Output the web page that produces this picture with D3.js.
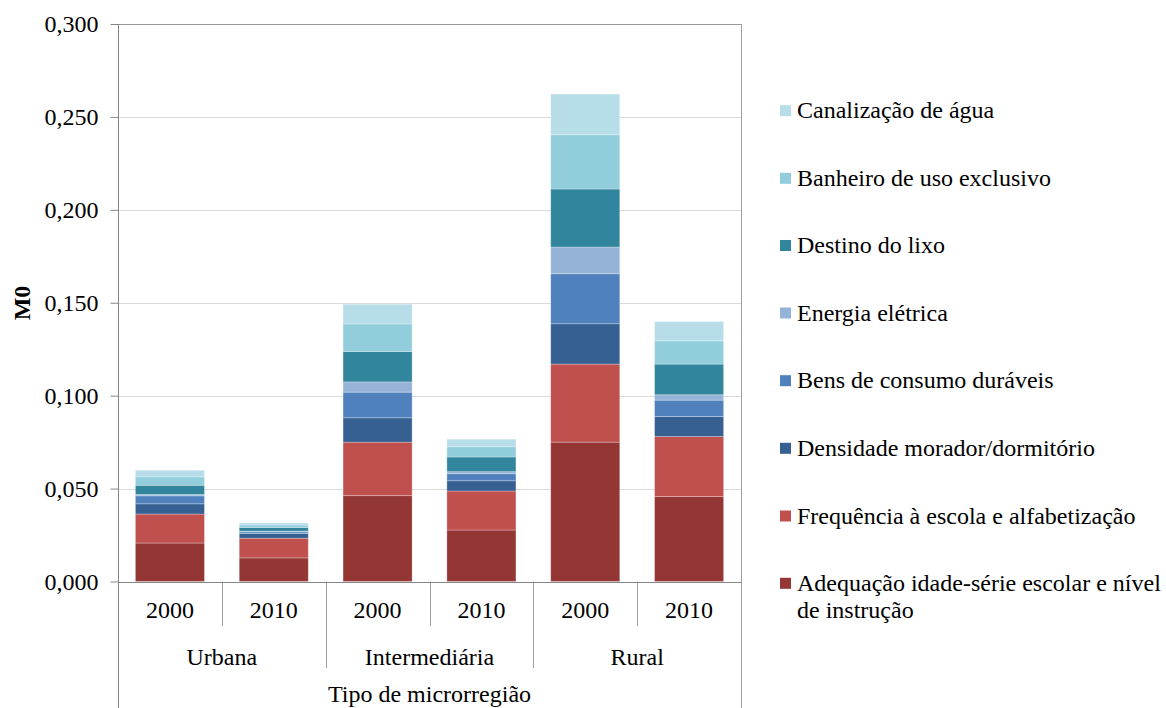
<!DOCTYPE html>
<html><head><meta charset="utf-8">
<script src="https://cdn.jsdelivr.net/npm/d3@7"></script>
<style>body{margin:0;background:#fff}svg{display:block}</style>
</head><body><svg id="c" width="1166" height="708"></svg>
<script>
const groups = ["Urbana", "Intermediária", "Rural"];
const years = ["2000", "2010"];
const series = [
  "Adequação idade-série escolar e nível de instrução",
  "Frequência à escola e alfabetização",
  "Densidade morador/dormitório",
  "Bens de consumo duráveis",
  "Energia elétrica",
  "Destino do lixo",
  "Banheiro de uso exclusivo",
  "Canalização de água"
];
const colors = ["#943634","#C0504D","#366092","#4F81BD","#95B3D7","#31859C","#92CDDC","#B7DEE8"];
// values per series, for bars: Urb2000, Urb2010, Int2000, Int2010, Rur2000, Rur2010
const adequacao   = [0.0207, 0.0127, 0.0462, 0.0277, 0.0750, 0.0457];
const frequencia  = [0.0156, 0.0106, 0.0288, 0.0210, 0.0420, 0.0323];
const densidade   = [0.0055, 0.0025, 0.0131, 0.0055, 0.0217, 0.0108];
const bens        = [0.0043, 0.0009, 0.0138, 0.0038, 0.0269, 0.0088];
const energia     = [0.0007, 0.0004, 0.0055, 0.0011, 0.0144, 0.0029];
const destino     = [0.0050, 0.0020, 0.0163, 0.0079, 0.0312, 0.0165];
const banheiro    = [0.0045, 0.0013, 0.0149, 0.0055, 0.0292, 0.0125];
const canalizacao = [0.0036, 0.0011, 0.0106, 0.0041, 0.0219, 0.0104];
const yTicks = [0, 0.05, 0.1, 0.15, 0.2, 0.25, 0.3];

const FONT = "'Liberation Serif', 'Times New Roman', 'DejaVu Serif', serif";
const FS = 24;

const values = [adequacao, frequencia, densidade, bens, energia, destino, banheiro, canalizacao];
const bars = [];
groups.forEach(g => years.forEach(y => bars.push({g, y})));
const table = bars.map((b, i) => {
  const o = {id: i};
  series.forEach((s, k) => o[s] = values[k][i]);
  return o;
});
const stacked = d3.stack().keys(series)(table);

const svg = d3.select("#c");
const L = 118, R = 741, T = 24, B = 581.5;
const x = d3.scaleBand().domain(d3.range(bars.length)).range([L, R]).paddingInner(0.335).paddingOuter(0.1675);
const y = d3.scaleLinear().domain([0, 0.3]).range([B, T]);
const step = x.step();
const fmt = d => d3.format(".3f")(d).replace(".", ",");

// gridlines
svg.append("g").selectAll("line").data(yTicks).join("line")
  .attr("x1", L).attr("x2", R).attr("y1", d => Math.round(y(d)) + 0.5).attr("y2", d => Math.round(y(d)) + 0.5)
  .attr("stroke", "#d9d9d9").attr("stroke-width", 1);

// bars
svg.append("g").selectAll("g").data(stacked).join("g")
  .attr("fill", (d, i) => colors[i])
  .selectAll("rect").data(d => d).join("rect")
  .attr("x", (d, i) => x(i)).attr("width", x.bandwidth())
  .attr("y", d => y(d[1])).attr("height", d => y(d[0]) - y(d[1]))
  .attr("stroke", "#fff").attr("stroke-opacity", 0.35).attr("stroke-width", 0.8);

// y axis
const yAxis = d3.axisLeft(y).tickValues(yTicks).tickFormat(fmt).tickSize(8).tickPadding(12);
const ga = svg.append("g").attr("transform", `translate(${L + 0.5},0)`).call(yAxis);
ga.attr("font-family", null).attr("font-size", null);
ga.select(".domain").remove();
ga.selectAll(".tick line").attr("stroke", "#868686");
ga.selectAll(".tick text").style("font-family", FONT).style("font-size", FS + "px").attr("fill", "#000").attr("dy", "0.33em");

const axisColor = "#868686";
// left and right frame lines
svg.append("line").attr("x1", L + 0.5).attr("x2", L + 0.5).attr("y1", T).attr("y2", 708).attr("stroke", axisColor);
svg.append("line").attr("x1", R + 0.5).attr("x2", R + 0.5).attr("y1", T).attr("y2", 708).attr("stroke", axisColor).attr("stroke-opacity", 0.8);
svg.append("line").attr("x1", L).attr("x2", R).attr("y1", T + 0.5).attr("y2", T + 0.5).attr("stroke", axisColor).attr("stroke-opacity", 0.8);
// baseline
svg.append("line").attr("x1", L).attr("x2", R).attr("y1", Math.round(B) + 0.5).attr("y2", Math.round(B) + 0.5).attr("stroke", axisColor);

// separators below axis
const seps = d3.range(1, bars.length);
svg.append("g").selectAll("line").data(seps).join("line")
  .attr("x1", i => Math.round(L + i * step) + 0.5).attr("x2", i => Math.round(L + i * step) + 0.5)
  .attr("y1", B).attr("y2", i => i % 2 === 0 ? 668 : 626)
  .attr("stroke", axisColor).attr("stroke-opacity", 0.8);

function txt(sel) { return sel.style("font-family", FONT).style("font-size", FS + "px").attr("fill", "#000"); }

// year labels
txt(svg.append("g").selectAll("text").data(bars).join("text")
  .attr("x", (d, i) => x(i) + x.bandwidth() / 2).attr("y", 618)
  .attr("text-anchor", "middle").text(d => d.y));
// group labels
txt(svg.append("g").selectAll("text").data(groups).join("text")
  .attr("x", (d, i) => L + (i * 2 + 1) * step).attr("y", 665)
  .attr("text-anchor", "middle").text(d => d));
// axis titles
txt(svg.append("text").attr("x", (L + R) / 2).attr("y", 702).attr("text-anchor", "middle").text("Tipo de microrregião"));
txt(svg.append("text").attr("transform", "translate(30,303) rotate(-90)").attr("text-anchor", "middle")
  .attr("font-weight", "bold").text("M0"));

// legend (reverse order)
const legY = [110.7, 178.3, 245.5, 313, 380.7, 448.3, 516, 583.3];
const leg = svg.append("g").selectAll("g").data(series.slice().reverse()).join("g")
  .attr("transform", (d, i) => `translate(780,${legY[i]})`);
leg.append("rect").attr("x", 0).attr("y", -5.5).attr("width", 11).attr("height", 11)
  .attr("fill", d => colors[series.indexOf(d)]);
leg.each(function(d) {
  const t = txt(d3.select(this).append("text").attr("x", 17).attr("y", 7.7));
  if (d.startsWith("Adequação")) {
    t.append("tspan").attr("x", 17).text("Adequação idade-série escolar e nível");
    t.append("tspan").attr("x", 17).attr("dy", 27.5).text("de instrução");
  } else t.text(d);
});
</script></body></html>
